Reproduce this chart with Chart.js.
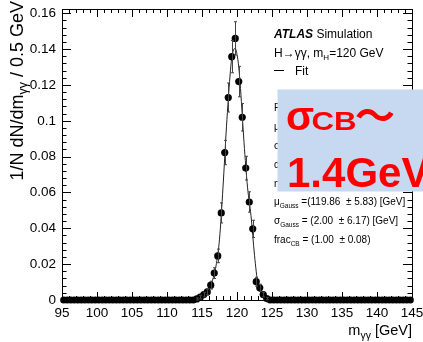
<!DOCTYPE html>
<html>
<head>
<meta charset="utf-8">
<script src="https://cdn.jsdelivr.net/npm/chart.js@4.4.1/dist/chart.umd.min.js"></script>
<style>
  html, body { margin: 0; padding: 0; background: #fff; }
  #wrap { position: relative; width: 423px; height: 342px; overflow: hidden; }
  #chart, #overlay { position: absolute; left: 0; top: 0; }
  #overlay text { font-family: "Liberation Sans", Arial, Helvetica, sans-serif; fill: #000; white-space: pre; }
  #overlay .red { fill: #ff0000; font-weight: bold; }
</style>
</head>
<body>
<div id="wrap">
  <canvas id="chart" width="423" height="342"></canvas>
  <svg id="overlay" width="423" height="342" viewBox="0 0 423 342">
    <!-- axis titles -->
    <text transform="rotate(-90)" x="-1" y="23" text-anchor="end" font-size="18">1/N dN/dm<tspan dy="4" font-size="12.5">γγ</tspan><tspan dy="-4"> / 0.5 GeV</tspan></text>
    <text x="412" y="335" text-anchor="end" font-size="14.5">m<tspan dy="4" font-size="10.5">γγ</tspan><tspan dy="-4"> [GeV]</tspan></text>

    <!-- legend -->
    <text x="274" y="37.5" font-size="12"><tspan font-weight="bold" font-style="italic">ATLAS</tspan> Simulation</text>
    <text x="274" y="56.7" font-size="12">H→γγ, m<tspan dy="3" font-size="8">H</tspan><tspan dy="-3">=120 GeV</tspan></text>
    <line x1="274" x2="284" y1="70.5" y2="70.5" stroke="#000" stroke-width="1"/>
    <text x="295" y="75" font-size="12">Fit</text>

    <!-- fit parameters -->
    <text x="274" y="110.5" font-size="10">Fit Parameters</text>
    <text x="274" y="129.5" font-size="10">μ<tspan dy="3" font-size="6.5">CB</tspan></text>
    <text x="274" y="148.5" font-size="10">σ<tspan dy="3" font-size="6.5">CB</tspan></text>
    <text x="274" y="167.5" font-size="10">α<tspan dy="3" font-size="6.5">CB</tspan></text>
    <text x="274" y="186.5" font-size="10">n<tspan dy="3" font-size="6.5">CB</tspan></text>
    <text x="274" y="205.3" font-size="10">μ<tspan dy="3" font-size="6.5">Gauss</tspan><tspan dy="-3"> =(119.86  ± 5.83) [GeV]</tspan></text>
    <text x="274" y="224" font-size="10">σ<tspan dy="3" font-size="6.5">Gauss</tspan><tspan dy="-3"> = (2.00  ± 6.17) [GeV]</tspan></text>
    <text x="274" y="243.3" font-size="10">frac<tspan dy="3" font-size="6.5">CB</tspan><tspan dy="-3"> = (1.00  ± 0.08)</tspan></text>

    <!-- highlight box -->
    <rect x="277.5" y="89.5" width="150" height="102" fill="#c6d9f1"/>
    <text class="red" x="286" y="130" font-size="41">σ</text>
    <text class="red" x="311.5" y="130" font-size="25" textLength="45" lengthAdjust="spacingAndGlyphs">CB</text>
    <text class="red" x="355" y="130" font-size="40" style="font-family:'Noto Sans CJK JP'">～</text>
    <text class="red" x="287" y="186.5" font-size="42">1.4GeV</text>
  </svg>
</div>
<script>
// histogram: 100 bins of 0.5 GeV from 95 to 145
const binLow = 95;
const binWidth = 0.5;
const binVals = [
    0, 0, 0, 0, 0, 0, 0, 0, 0, 0,
    0, 0, 0, 0, 0, 0, 0, 0, 0, 0,
    0, 0, 0, 0, 0, 0, 0, 0, 0, 0,
    0, 0, 0, 0, 0, 0, 0, 0, 0.0006, 0.0016,
    0.003, 0.0045, 0.0083, 0.015, 0.0246, 0.0486, 0.0823, 0.113, 0.1358, 0.146,
    0.1219, 0.102, 0.0736, 0.0547, 0.0397, 0.0102, 0.0068, 0.003, 0.0008, 0,
    0, 0, 0, 0, 0, 0, 0, 0, 0, 0,
    0, 0, 0, 0, 0, 0, 0, 0, 0, 0,
    0, 0, 0, 0, 0, 0, 0, 0, 0, 0,
    0, 0, 0, 0, 0, 0, 0, 0, 0, 0
];
const binErrs = [
    0, 0, 0, 0, 0, 0, 0, 0, 0, 0,
    0, 0, 0, 0, 0, 0, 0, 0, 0, 0,
    0, 0, 0, 0, 0, 0, 0, 0, 0, 0,
    0, 0, 0, 0, 0, 0, 0, 0, 0.0006, 0.001,
    0.0013, 0.0016, 0.0022, 0.003, 0.0038, 0.0056, 0.0068, 0.0081, 0.009, 0.0093,
    0.0085, 0.0077, 0.0066, 0.0057, 0.0048, 0.0025, 0.002, 0.0013, 0.0007, 0,
    0, 0, 0, 0, 0, 0, 0, 0, 0, 0,
    0, 0, 0, 0, 0, 0, 0, 0, 0, 0,
    0, 0, 0, 0, 0, 0, 0, 0, 0, 0,
    0, 0, 0, 0, 0, 0, 0, 0, 0, 0
];

// fit curve
const fitX = [95, 113, 114, 114.5, 115, 115.5, 116, 116.5, 117, 117.5, 118, 118.5, 119, 119.25, 119.5, 119.75,
    120, 120.25, 120.5, 121, 121.5, 122, 122.5, 123, 123.5, 124, 124.5, 125, 145];
const fitY = [0, 0, 0.0004, 0.0009, 0.002, 0.0036, 0.0063, 0.011, 0.019, 0.034, 0.063, 0.097, 0.125, 0.135, 0.1395, 0.1405,
    0.137, 0.13, 0.118, 0.088, 0.063, 0.047, 0.025, 0.0085, 0.0035, 0.0012, 0.0003, 0, 0];

// axes
const xTickVals = [95, 100, 105, 110, 115, 120, 125, 130, 135, 140, 145];
const xTickLabels = ['95', '100', '105', '110', '115', '120', '125', '130', '135', '140', '145'];
const yTickVals = [0, 0.02, 0.04, 0.06, 0.08, 0.1, 0.12, 0.14, 0.16];
const yTickLabels = ['0', '0.02', '0.04', '0.06', '0.08', '0.1', '0.12', '0.14', '0.16'];
const xMinorStep = 1;
const yMinorStep = 0.004;
const yMax = 0.1624;

const centers = binVals.map((_, i) => binLow + binWidth * (i + 0.5));
const histPts = centers.map((x, i) => ({ x: x, y: binVals[i] }));
const fitPts = fitX.map((x, i) => ({ x: x, y: fitY[i] }));

const fontFamily = '"Liberation Sans", Arial, Helvetica, sans-serif';

// frame + ROOT style inward ticks on all four sides, x labels
const frameTicks = {
    id: 'frameTicks',
    beforeDatasetsDraw(chart) {
        const { ctx, chartArea: a, scales: { x, y } } = chart;
        const px = v => Math.round(x.getPixelForValue(v)) + 0.5;
        const py = v => Math.round(y.getPixelForValue(v)) + 0.5;
        ctx.save();
        ctx.strokeStyle = '#000';
        ctx.lineWidth = 1;
        ctx.beginPath();
        ctx.rect(Math.round(a.left) + 0.5, Math.round(a.top) + 0.5,
            Math.round(a.right - a.left), Math.round(a.bottom - a.top));

        for (let v = x.min; v <= x.max + 1e-9; v += xMinorStep) {
            const major = xTickVals.some(t => Math.abs(t - v) < 1e-6);
            const len = major ? 8 : 4;
            const p = px(v);
            ctx.moveTo(p, a.bottom); ctx.lineTo(p, a.bottom - len);
            ctx.moveTo(p, a.top); ctx.lineTo(p, a.top + len);
        }
        for (let v = y.min; v <= y.max + 1e-9; v += yMinorStep) {
            const major = yTickVals.some(t => Math.abs(t - v) < 1e-6);
            const len = major ? 9 : 4.5;
            const p = py(v);
            ctx.moveTo(a.left, p); ctx.lineTo(a.left + len, p);
            ctx.moveTo(a.right, p); ctx.lineTo(a.right - len, p);
        }
        ctx.stroke();

        // x tick labels (drawn here so the label at 145 does not shrink the plot)
        ctx.fillStyle = '#000';
        ctx.font = '13.5px ' + fontFamily;
        ctx.textAlign = 'center';
        ctx.textBaseline = 'alphabetic';
        xTickVals.forEach((v, i) => ctx.fillText(xTickLabels[i], x.getPixelForValue(v), a.bottom + 16.5));
        ctx.restore();
    },
    afterDatasetsDraw(chart) {
        // vertical error bars with small caps
        const { ctx, scales: { x, y } } = chart;
        ctx.save();
        ctx.strokeStyle = '#444';
        ctx.lineWidth = 1;
        ctx.beginPath();
        centers.forEach((c, i) => {
            const e = binErrs[i];
            if (!e) return;
            const p = Math.round(x.getPixelForValue(c)) + 0.5;
            const top = y.getPixelForValue(binVals[i] + e);
            const bot = y.getPixelForValue(binVals[i] - e);
            ctx.moveTo(p, top); ctx.lineTo(p, bot);
            ctx.moveTo(p - 1.5, top); ctx.lineTo(p + 1.5, top);
            ctx.moveTo(p - 1.5, bot); ctx.lineTo(p + 1.5, bot);
        });
        ctx.stroke();
        ctx.restore();
    }
};

Chart.defaults.font.family = fontFamily;
Chart.defaults.color = '#000';

new Chart(document.getElementById('chart').getContext('2d'), {
    type: 'scatter',
    data: {
        datasets: [
            {
                label: 'MC',
                data: histPts,
                showLine: false,
                pointRadius: 3.6,
                pointBackgroundColor: '#000',
                pointBorderWidth: 0,
                clip: false
            },
            {
                label: 'Fit',
                data: fitPts,
                showLine: true,
                borderColor: '#222',
                borderWidth: 1,
                pointRadius: 0,
                cubicInterpolationMode: 'monotone',
                fill: false
            }
        ]
    },
    options: {
        responsive: false,
        animation: false,
        events: [],
        layout: { autoPadding: false, padding: { left: 0, right: 11, top: 9, bottom: 0 } },
        plugins: {
            legend: { display: false },
            tooltip: { enabled: false }
        },
        scales: {
            x: {
                type: 'linear',
                min: 95,
                max: 145,
                afterBuildTicks: s => { s.ticks = xTickVals.map(v => ({ value: v })); },
                afterFit: s => { s.height = 42; },
                grid: { display: false, drawTicks: false },
                border: { display: false },
                ticks: { display: false }
            },
            y: {
                type: 'linear',
                min: 0,
                max: yMax,
                afterBuildTicks: s => { s.ticks = yTickVals.map(v => ({ value: v })); },
                afterFit: s => { s.width = 62; s.paddingTop = 0; s.paddingBottom = 0; },
                grid: { display: false, drawTicks: false },
                border: { display: false },
                ticks: {
                    autoSkip: false,
                    padding: 6,
                    font: { size: 13.5 },
                    callback: (v, i) => yTickLabels[i]
                }
            }
        }
    },
    plugins: [frameTicks]
});
</script>
</body>
</html>
